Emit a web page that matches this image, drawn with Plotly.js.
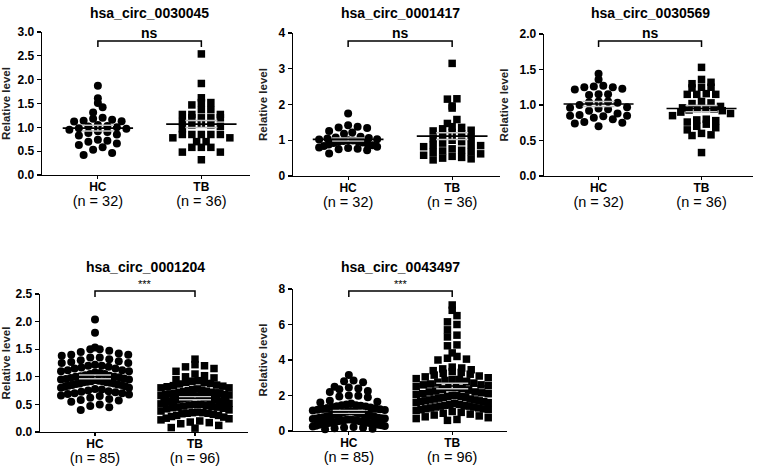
<!DOCTYPE html>
<html>
<head>
<meta charset="utf-8">
<script src="https://cdn.plot.ly/plotly-3.0.1.min.js"></script>
<style>
  html, body { margin: 0; padding: 0; background: #fff; }
  #chart { width: 760px; height: 470px; }
</style>
</head>
<body>
<div id="chart"></div>
<script>
// panel titles, groups and labels
var titles = ["hsa_circ_0030045", "hsa_circ_0001417", "hsa_circ_0030569", "hsa_circ_0001204", "hsa_circ_0043497"];
var groups = ["HC", "TB"];
var nHC = [32, 32, 32, 85, 85];
var nTB = [36, 36, 36, 96, 96];
var sigText = ["ns", "ns", "ns", "***", "***"];
var yTicks = [
  ["0.0", "0.5", "1.0", "1.5", "2.0", "2.5", "3.0"],
  ["0", "1", "2", "3", "4"],
  ["0.0", "0.5", "1.0", "1.5", "2.0"],
  ["0.0", "0.5", "1.0", "1.5", "2.0", "2.5"],
  ["0", "2", "4", "6", "8"]
];

// relative levels
var hc1 = [1.87, 1.61, 1.51, 1.42, 1.31, 1.20, 1.18, 1.16, 1.14, 1.13, 1.12, 1.05, 1.03, 1.02, 1.00, 0.98,
  0.97, 0.95, 0.92, 0.90, 0.88, 0.85, 0.83, 0.74, 0.72, 0.70, 0.66, 0.63, 0.58, 0.53, 0.46, 0.42];
var tb1 = [2.54, 1.92, 1.62, 1.52, 1.52, 1.47, 1.37, 1.37, 1.27, 1.27, 1.27, 1.20, 1.20, 1.20, 1.20, 1.12,
  1.05, 1.02, 1.05, 1.08, 0.97, 0.85, 0.85, 0.85, 0.85, 0.85, 0.78, 0.78, 0.70, 0.70, 0.58, 0.58, 0.58,
  0.48, 0.48, 0.32];

var hc2 = [1.75, 1.42, 1.38, 1.36, 1.34, 1.26, 1.22, 1.18, 1.10, 1.08, 1.06, 1.05, 1.03, 1.02, 1.00, 0.99,
  0.98, 0.97, 0.95, 0.94, 0.92, 0.90, 0.88, 0.86, 0.84, 0.82, 0.80, 0.78, 0.76, 0.75, 0.72, 0.63];
var tb2 = [3.15, 2.16, 2.15, 1.96, 1.90, 1.58, 1.47, 1.38, 1.36, 1.32, 1.28, 1.26, 1.22, 1.18, 1.12, 1.08,
  1.05, 1.00, 0.96, 0.92, 0.88, 0.86, 0.85, 0.82, 0.76, 0.72, 0.70, 0.68, 0.66, 0.62, 0.58, 0.55, 0.52,
  0.50, 0.48, 0.45];

var hc3 = [1.44, 1.36, 1.27, 1.26, 1.25, 1.25, 1.23, 1.22, 1.15, 1.14, 1.15, 1.05, 1.05, 1.04, 1.03, 1.00,
  0.97, 0.96, 0.95, 0.94, 0.92, 0.88, 0.86, 0.85, 0.85, 0.84, 0.82, 0.80, 0.76, 0.75, 0.74, 0.70];
var tb3 = [1.53, 1.36, 1.32, 1.30, 1.25, 1.25, 1.24, 1.16, 1.15, 1.15, 1.15, 1.05, 1.03, 1.02, 0.98, 0.96,
  0.95, 0.95, 0.94, 0.93, 0.92, 0.90, 0.88, 0.85, 0.80, 0.79, 0.78, 0.76, 0.73, 0.70, 0.68, 0.65, 0.60,
  0.58, 0.57, 0.33];

var hc4 = [2.04, 1.80, 1.53, 1.50, 1.50, 1.47, 1.45, 1.42, 1.40, 1.40, 1.38, 1.35, 1.35, 1.32, 1.30, 1.28,
  1.27, 1.25, 1.25, 1.22, 1.20, 1.20, 1.18, 1.17, 1.15, 1.15, 1.12, 1.12, 1.10, 1.10, 1.08, 1.07, 1.05,
  1.05, 1.03, 1.02, 1.01, 1.00, 1.00, 0.99, 0.98, 0.97, 0.96, 0.95, 0.95, 0.94, 0.93, 0.92, 0.92, 0.91,
  0.90, 0.90, 0.89, 0.88, 0.88, 0.87, 0.86, 0.85, 0.85, 0.84, 0.83, 0.82, 0.80, 0.80, 0.78, 0.77, 0.75,
  0.74, 0.73, 0.72, 0.70, 0.70, 0.69, 0.68, 0.66, 0.65, 0.62, 0.60, 0.58, 0.57, 0.55, 0.50, 0.47, 0.45, 0.40];
var tb4 = [1.32, 1.22, 1.20, 1.18, 1.15, 1.10, 1.05, 1.02, 1.00, 0.98, 0.95, 0.93, 0.92, 0.90, 0.90, 0.88,
  0.87, 0.85, 0.84, 0.83, 0.82, 0.80, 0.80, 0.78, 0.77, 0.76, 0.75, 0.74, 0.73, 0.72, 0.71, 0.70, 0.70,
  0.69, 0.68, 0.67, 0.66, 0.65, 0.65, 0.64, 0.63, 0.62, 0.62, 0.61, 0.60, 0.60, 0.59, 0.58, 0.57, 0.56,
  0.55, 0.55, 0.54, 0.53, 0.52, 0.51, 0.50, 0.50, 0.49, 0.48, 0.47, 0.46, 0.45, 0.45, 0.44, 0.43, 0.42,
  0.40, 0.38, 0.36, 0.35, 0.35, 0.34, 0.34, 0.33, 0.32, 0.30, 0.30, 0.28, 0.27, 0.25, 0.24, 0.22, 0.20,
  0.18, 0.17, 0.15, 0.12, 0.08, 0.07, 0.65, 0.58, 0.72, 0.62, 0.55, 0.68];

var hc5 = [3.15, 2.85, 2.80, 2.75, 2.50, 2.45, 2.40, 2.35, 2.25, 2.20, 2.00, 1.98, 1.95, 1.90, 1.70, 1.65,
  1.60, 1.55, 1.50, 1.45, 1.45, 1.42, 1.40, 1.38, 1.35, 1.32, 1.30, 1.28, 1.25, 1.22, 1.20, 1.18, 1.15,
  1.12, 1.10, 1.08, 1.05, 1.02, 1.00, 0.98, 0.95, 0.92, 0.90, 0.88, 0.85, 0.85, 0.82, 0.80, 0.78, 0.75,
  0.75, 0.72, 0.70, 0.70, 0.68, 0.65, 0.65, 0.62, 0.60, 0.60, 0.58, 0.55, 0.55, 0.52, 0.50, 0.50, 0.48,
  0.45, 0.45, 0.42, 0.40, 0.40, 0.38, 0.35, 0.35, 0.32, 0.30, 0.28, 0.25, 0.22, 0.20, 0.18, 0.15, 0.12, 0.10];
var tb5 = [7.10, 6.80, 6.50, 6.15, 6.00, 5.70, 5.40, 5.30, 4.85, 4.80, 4.40, 4.20, 4.10, 4.05, 4.00, 3.60,
  3.55, 3.50, 3.45, 3.35, 3.30, 3.25, 3.20, 3.15, 3.10, 3.05, 3.00, 2.95, 2.90, 2.85, 2.80, 2.75, 2.70,
  2.65, 2.60, 2.55, 2.50, 2.45, 2.40, 2.35, 2.30, 2.25, 2.20, 2.15, 2.10, 2.05, 2.00, 2.00, 1.95, 1.90,
  1.90, 1.85, 1.80, 1.80, 1.75, 1.70, 1.70, 1.65, 1.60, 1.60, 1.55, 1.50, 1.50, 1.45, 1.45, 1.40, 1.40,
  1.35, 1.35, 1.30, 1.30, 1.25, 1.25, 1.20, 1.20, 1.15, 1.10, 1.05, 1.00, 0.95, 0.90, 0.85, 0.80, 0.75,
  0.70, 0.65, 0.60, 2.60, 2.20, 1.95, 2.45, 3.40, 1.75, 2.10, 2.90, 1.65];

var hcData = [hc1, hc2, hc3, hc4, hc5];
var tbData = [tb1, tb2, tb3, tb4, tb5];

// where each plot area sits on the page, in px, its x range and how wide a swarm may get
var W = 760, H = 470;
var boxes = [
  {l: 42, r: 250, t: 32, b: 175, xr: [-0.54, 1.47], spread: 29},
  {l: 293, r: 500, t: 33, b: 176, xr: [-0.53, 1.46], spread: 29},
  {l: 544, r: 753, t: 34, b: 176, xr: [-0.53, 1.50], spread: 29},
  {l: 40, r: 248, t: 294, b: 432, xr: [-0.55, 1.53], spread: 34},
  {l: 293, r: 507, t: 289, b: 431, xr: [-0.54, 1.53], spread: 36}
];
var FONT = "Liberation Sans, Arial, sans-serif";
var DOT = 8;

function mean(a) { return a.reduce(function (s, v) { return s + v; }, 0) / a.length; }
function sem(a) {
  var m = mean(a);
  var ss = a.reduce(function (s, v) { return s + (v - m) * (v - m); }, 0);
  return Math.sqrt(ss / (a.length - 1)) / Math.sqrt(a.length);
}

// Prism-style scatter: values falling in the same row are spread side by side,
// squeezed together when a row would get wider than maxHalf
function rowOffsets(vals, pxPerY, maxHalf) {
  var rows = {};
  vals.forEach(function (v, i) {
    var r = Math.round(v * pxPerY / DOT);
    (rows[r] = rows[r] || []).push(i);
  });
  var off = new Array(vals.length);
  Object.keys(rows).forEach(function (r) {
    var idx = rows[r].sort(function (a, b) { return vals[a] - vals[b]; });
    var k = idx.length;
    var step = k > 1 ? Math.min(DOT + 1.5, 2 * maxHalf / (k - 1)) : 0;
    // interleave so neighbouring values are not all on one side
    var slots = [];
    for (var s = 0; s < k; s++) slots.push((s - (k - 1) / 2) * step);
    var alt = [];
    for (var a = 0; a < k; a++) alt.push(a % 2 === 0 ? slots[a / 2] : slots[k - 1 - (a - 1) / 2]);
    idx.forEach(function (i, j) { off[i] = alt[j]; });
  });
  return off;
}

var data = [];
var layout = {
  width: W, height: H,
  margin: {l: 0, r: 0, t: 0, b: 0},
  paper_bgcolor: "#fff", plot_bgcolor: "#fff",
  showlegend: false,
  font: {family: FONT, color: "#000"},
  annotations: [], shapes: []
};

titles.forEach(function (title, p) {
  var bx = boxes[p];
  var n = p + 1;
  var xa = "x" + n, ya = "y" + n;
  var ticks = yTicks[p];
  var top = parseFloat(ticks[ticks.length - 1]);
  var pxPerX = (bx.r - bx.l) / (bx.xr[1] - bx.xr[0]);
  var pxPerY = (bx.b - bx.t) / top;
  var sets = [hcData[p], tbData[p]];

  sets.forEach(function (vals, g) {
    var off = rowOffsets(vals, pxPerY, bx.spread);
    data.push({
      type: "scatter", mode: "markers", xaxis: xa, yaxis: ya,
      x: vals.map(function (v, i) { return g + off[i] / pxPerX; }),
      y: vals,
      cliponaxis: false,
      marker: {symbol: g === 0 ? "circle" : "square", size: g === 0 ? DOT : DOT - 0.5, color: "#000", line: {width: 0}},
      hoverinfo: "y"
    });
  });

  var means = sets.map(mean);
  var sems = sets.map(sem);
  // SEM whiskers
  data.push({
    type: "scatter", mode: "markers", xaxis: xa, yaxis: ya,
    x: [0, 1], y: means,
    marker: {size: 1, opacity: 0},
    error_y: {type: "data", array: sems, visible: true, color: "#c4c4c4", thickness: 1.5, width: 16},
    hoverinfo: "skip"
  });
  // mean lines
  var hw = 0.34;
  data.push({
    type: "scatter", mode: "lines", xaxis: xa, yaxis: ya,
    x: [-hw, hw, null, 1 - hw, 1 + hw],
    y: [means[0], means[0], null, means[1], means[1]],
    line: {color: "#000", width: 1.6},
    hoverinfo: "skip"
  });

  var xKey = p === 0 ? "xaxis" : "xaxis" + n;
  var yKey = p === 0 ? "yaxis" : "yaxis" + n;
  layout[xKey] = {
    domain: [bx.l / W, bx.r / W], anchor: ya, range: bx.xr,
    tickvals: [0, 1],
    ticktext: groups.map(function (gname, g) {
      var nn = g === 0 ? nHC[p] : nTB[p];
      return "<b>" + gname + "</b><br><span style='font-size:14.5px'>(n = " + nn + ")</span>";
    }),
    tickfont: {family: FONT, size: 12, color: "#000"},
    ticks: "outside", ticklen: 3, tickwidth: 1.2, tickcolor: "#000",
    ticklabelstandoff: -3,
    showline: true, linecolor: "#000", linewidth: 1.3,
    showgrid: false, zeroline: false, fixedrange: true
  };
  layout[yKey] = {
    domain: [1 - bx.b / H, 1 - bx.t / H], anchor: xa, range: [0, top],
    tickvals: ticks.map(parseFloat),
    ticktext: ticks.map(function (t) { return "<b>" + t + "</b>"; }),
    tickfont: {family: FONT, size: 12, color: "#000"},
    ticks: "outside", ticklen: 4, tickwidth: 1.3, tickcolor: "#000",
    showline: true, linecolor: "#000", linewidth: 1.3,
    showgrid: false, zeroline: false, fixedrange: true,
    title: {text: "<b>Relative level</b>", font: {family: FONT, size: 11.5, color: "#222"}, standoff: 8}
  };

  // panel title
  var row2 = p >= 3;
  layout.annotations.push({
    xref: xa, yref: "paper", x: 0.5, y: 1 - (row2 ? 267 : 13) / H,
    xanchor: "center", yanchor: "middle", showarrow: false,
    text: "<b>" + title + "</b>", font: {family: FONT, size: 14, color: "#000"}
  });

  // significance bracket
  var f0 = (0 - bx.xr[0]) / (bx.xr[1] - bx.xr[0]);
  var f1 = (1 - bx.xr[0]) / (bx.xr[1] - bx.xr[0]);
  var bTop = 1 - (row2 ? 291 : 41) / H, bLow = 1 - (row2 ? 297 : 47) / H;
  layout.shapes.push({
    type: "path", xref: xa + " domain", yref: "paper",
    path: "M" + f0 + "," + bLow + " L" + f0 + "," + bTop + " L" + f1 + "," + bTop + " L" + f1 + "," + bLow,
    line: {color: "#000", width: 1.5}
  });
  layout.annotations.push({
    xref: xa, yref: "paper", x: 0.5, y: 1 - (row2 ? 284 : 33) / H,
    xanchor: "center", yanchor: "middle", showarrow: false,
    text: row2 ? sigText[p] : "<b>" + sigText[p] + "</b>",
    font: {family: FONT, size: row2 ? 11 : 14, color: "#000"}
  });
});

Plotly.newPlot("chart", data, layout, {displayModeBar: false, staticPlot: true});
</script>
</body>
</html>
